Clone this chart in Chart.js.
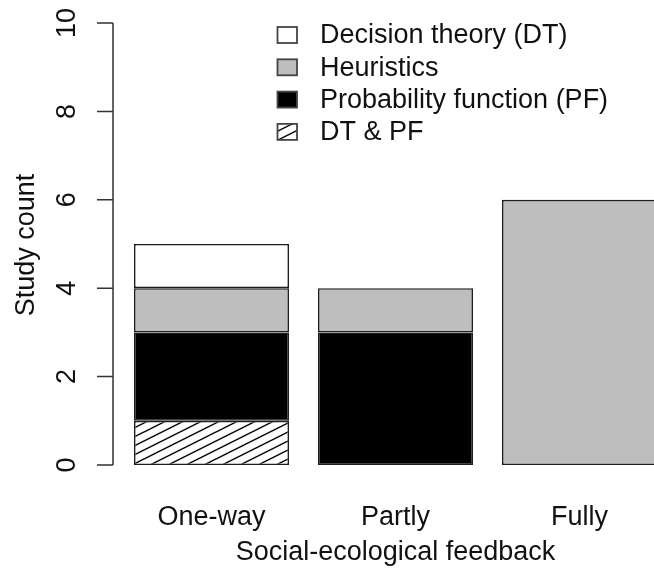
<!DOCTYPE html>
<html>
<head>
<meta charset="utf-8">
<script src="https://cdn.jsdelivr.net/npm/chart.js@4/dist/chart.umd.min.js"></script>
<style>
  html, body { margin: 0; padding: 0; background: #fff; overflow: hidden; }
  #wrap { width: 654px; height: 570px; overflow: hidden; }
</style>
</head>
<body>
<div id="wrap"><canvas id="c" width="690" height="570"></canvas></div>
<script>
const categories = ["One-way", "Partly", "Fully"];
// stacked bottom to top
const dtPf = [1, 0, 0];
const probFn = [2, 3, 0];
const heuristics = [1, 1, 6];
const decisionTheory = [1, 0, 0];
const yTicks = [0, 2, 4, 6, 8, 10];
const xTitle = "Social-ecological feedback";
const yTitle = "Study count";

const FONT = "27px 'Liberation Sans', Arial, sans-serif";
const EDGE = "#1e1e1e";

function hatchPattern() {
  const w = 18, h = 9;
  const t = document.createElement("canvas");
  t.width = w; t.height = h;
  const g = t.getContext("2d");
  g.fillStyle = "#fff";
  g.fillRect(0, 0, w, h);
  g.strokeStyle = "#000";
  g.lineWidth = 1.4;
  for (const dy of [-h, 0, h]) {
    g.beginPath();
    g.moveTo(-w, 2 * h + dy);
    g.lineTo(2 * w, -h + dy);
    g.stroke();
  }
  return document.getElementById("c").getContext("2d").createPattern(t, "repeat");
}

const series = [
  { label: "DT & PF", data: dtPf, color: hatchPattern() },
  { label: "Probability function (PF)", data: probFn, color: "#000000" },
  { label: "Heuristics", data: heuristics, color: "#bebebe" },
  { label: "Decision theory (DT)", data: decisionTheory, color: "#ffffff" },
];

const rAxes = {
  id: "rAxes",
  afterDraw(chart) {
    const ctx = chart.ctx;
    const y = chart.scales.y;
    const x = chart.scales.x;
    const axX = chart.chartArea.left - 6.5;
    ctx.save();
    ctx.strokeStyle = "#333";
    ctx.lineWidth = 1.5;
    ctx.beginPath();
    ctx.moveTo(axX, y.getPixelForValue(yTicks[0]));
    ctx.lineTo(axX, y.getPixelForValue(yTicks[yTicks.length - 1]));
    yTicks.forEach(v => {
      const py = y.getPixelForValue(v);
      ctx.moveTo(axX - 16, py);
      ctx.lineTo(axX, py);
    });
    ctx.stroke();

    ctx.fillStyle = "#111";
    ctx.font = FONT;
    ctx.textAlign = "center";
    ctx.textBaseline = "alphabetic";
    yTicks.forEach(v => {
      ctx.save();
      ctx.translate(75, y.getPixelForValue(v));
      ctx.rotate(-Math.PI / 2);
      ctx.fillText(String(v), 0, 0);
      ctx.restore();
    });
    ctx.save();
    ctx.translate(34, 245);
    ctx.rotate(-Math.PI / 2);
    ctx.fillText(yTitle, 0, 0);
    ctx.restore();

    categories.forEach((c, i) => {
      ctx.fillText(c, x.getPixelForValue(i), 524.5);
    });
    ctx.fillText(xTitle, 395.5, 560);

    // legend, top entry = top of stack
    const items = series.slice().reverse();
    ctx.textAlign = "left";
    ctx.textBaseline = "middle";
    items.forEach((s, i) => {
      const cy = 35 + i * 32.3;
      ctx.fillStyle = s.color;
      ctx.fillRect(277.5, cy - 8, 19.5, 16);
      ctx.strokeStyle = "#444";
      ctx.lineWidth = 1.8;
      ctx.strokeRect(277.5, cy - 8, 19.5, 16);
      ctx.fillStyle = "#111";
      ctx.fillText(s.label, 320, cy + 1);
    });
    ctx.restore();
  }
};

new Chart(document.getElementById("c"), {
  type: "bar",
  data: {
    labels: categories,
    datasets: series.map(s => ({
      label: s.label,
      data: s.data.map(v => v || null),
      backgroundColor: s.color,
      borderColor: EDGE,
      borderWidth: 1.6,
      borderSkipped: false,
      categoryPercentage: 1,
      barPercentage: 155 / 184,
    })),
  },
  options: {
    responsive: false,
    animation: false,
    events: [],
    layout: { padding: { left: 119.5, right: 18.5, top: 23, bottom: 105 } },
    plugins: { legend: { display: false }, tooltip: { enabled: false } },
    scales: {
      x: { stacked: true, display: false },
      y: { stacked: true, display: false, min: 0, max: 10 },
    },
  },
  plugins: [rAxes],
});
</script>
</body>
</html>
